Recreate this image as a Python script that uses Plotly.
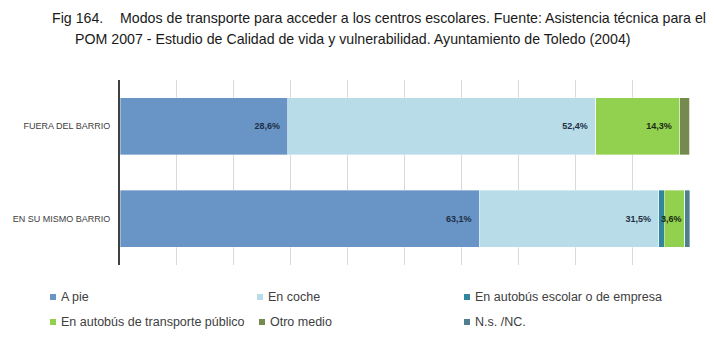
import plotly.graph_objects as go

categories = ["EN SU MISMO BARRIO", "FUERA DEL BARRIO"]
series_names = ["A pie", "En coche", "En autobús escolar o de empresa",
                "En autobús de transporte público", "Otro medio", "N.s. /NC."]
a_pie = [63.1, 28.6]
en_coche = [31.5, 52.4]
bus_escolar = [0.9, 0.0]
bus_publico = [3.6, 14.3]
otro_medio = [0.0, 1.7]
ns_nc = [0.9, 0.0]
series_values = [a_pie, en_coche, bus_escolar, bus_publico, otro_medio, ns_nc]
colors = ["#6894c6", "#b8dde8", "#31859c", "#92d050", "#76894e", "#4f7f8f"]
label_colors = ["#1f2f45", "#1f2f45", "#1f2f45", "#1b2a10", "#1f2f45", "#1f2f45"]

W, H = 714, 340
L, R, T, B = 120, 24, 80, 75
PW, PH = W - L - R, H - T - B

def px(x):
    return (x - L) / PW

def py(y):
    return (H - B - y) / PH

def fmt(v):
    s = f"{v:.1f}".replace(".", ",") + "%"
    if v < 3:
        return ""
    return s + ("\u00a0\u00a0" if v >= 5 else "")

fig = go.Figure()
for name, vals, col, lc in zip(series_names, series_values, colors, label_colors):
    fig.add_trace(go.Bar(
        y=categories, x=vals, name=name, orientation="h",
        marker=dict(color=col, line=dict(color="rgba(255,255,255,0.6)", width=0.6)),
        text=[fmt(v) for v in vals], textposition="inside", insidetextanchor="end",
        textangle=0, constraintext="none",
        textfont=dict(family="Liberation Sans, Arial", size=9, color=lc, weight="bold"),
        cliponaxis=False, showlegend=False,
    ))

fig.update_layout(
    width=W, height=H, barmode="stack", barnorm="percent", bargap=0.38,
    margin=dict(l=L, r=R, t=T, b=B),
    paper_bgcolor="white", plot_bgcolor="white",
    font=dict(family="Liberation Sans, Arial", color="#404040"),
    xaxis=dict(range=[0, 100.05], dtick=10, showticklabels=False, showgrid=True,
               gridcolor="#d9d9d9", gridwidth=1, zeroline=False, fixedrange=True),
    yaxis=dict(showline=True, linecolor="#404040", linewidth=2, ticks="",
               tickfont=dict(size=9, color="#404040"), ticklabelstandoff=6,
               showgrid=False, fixedrange=True),
)

ann = []
ann.append(dict(x=px(50), y=py(18), text="Fig 164.", xanchor="left", yanchor="middle"))
ann.append(dict(x=px(118), y=py(18),
                text="Modos de transporte para acceder a los centros escolares. Fuente: Asistencia técnica para el",
                xanchor="left", yanchor="middle"))
ann.append(dict(x=px(73), y=py(39),
                text="POM 2007 - Estudio de Calidad de vida y vulnerabilidad. Ayuntamiento de Toledo (2004)",
                xanchor="left", yanchor="middle"))
for a in ann:
    a.update(xref="paper", yref="paper", showarrow=False,
             font=dict(size=14.2, color="#1a1a1a", family="Liberation Sans, Arial"))

legend_pos = [(50, 297), (257, 297), (464, 297), (50, 322), (259, 322), (464, 322)]
shapes = []
for name, col, (lx, ly) in zip(series_names, colors, legend_pos):
    shapes.append(dict(type="rect", xref="paper", yref="paper",
                       x0=px(lx), x1=px(lx + 6), y0=py(ly + 3), y1=py(ly - 3),
                       fillcolor=col, line=dict(width=0)))
    ann.append(dict(x=px(lx + 9), y=py(ly), text=name, xref="paper", yref="paper",
                    showarrow=False, xanchor="left", yanchor="middle",
                    font=dict(size=12.5, color="#404040", family="Liberation Sans, Arial")))

fig.update_layout(annotations=ann, shapes=shapes)
fig.write_html("out.html")
